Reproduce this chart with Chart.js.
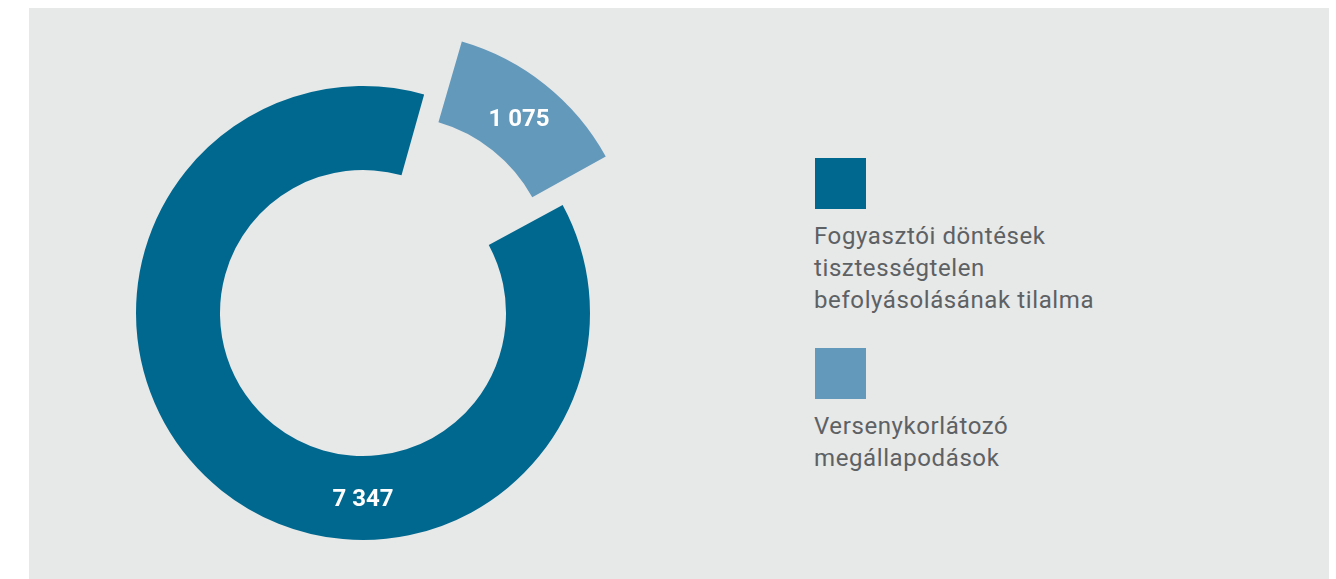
<!DOCTYPE html>
<html>
<head>
<meta charset="utf-8">
<script src="https://cdn.jsdelivr.net/npm/chart.js@4.4.1/dist/chart.umd.min.js"></script>
<style>
  html, body { margin: 0; padding: 0; background: #ffffff; overflow: hidden; }
  body { width: 1336px; height: 579px; position: relative; }
  #panel { position: absolute; left: 29px; top: 8px; width: 1300px; height: 600px; background: #e7e8e8; }
  #chart { position: absolute; left: 63px; top: 13px; }
  #legend { position: absolute; left: 815px; top: 158px; font-family: Roboto, "Noto Sans", sans-serif; font-size: 24px; line-height: 32px; letter-spacing: 0.6px; color: #5d6164; }
  .item { margin-bottom: 32px; }
  .box { width: 51px; height: 51px; margin-bottom: 11px; }
  .txt { margin-left: -1px; }
</style>
</head>
<body>
<div id="panel"></div>
<canvas id="chart" width="600" height="600"></canvas>
<div id="legend"></div>
<script>
const categories = [
  ['Fogyasztói döntések', 'tisztességtelen', 'befolyásolásának tilalma'],
  ['Versenykorlátozó', 'megállapodások']
];
const values = [7347, 1075];
const valueLabels = ['7 347', '1 075'];
const colors = ['#00688f', '#6399bb'];

const labelPlugin = {
  id: 'sliceLabels',
  afterDatasetsDraw(chart) {
    const ctx = chart.ctx;
    const meta = chart.getDatasetMeta(0);
    ctx.save();
    ctx.fillStyle = '#ffffff';
    ctx.font = 'bold 24px Roboto, sans-serif';
    ctx.textAlign = 'center';
    ctx.textBaseline = 'middle';
    meta.data.forEach((arc, i) => {
      const p = arc.getProps(['x', 'y', 'startAngle', 'endAngle', 'innerRadius', 'outerRadius', 'circumference']);
      const off = (arc.options.offset || 0) / 4;
      const mid = (p.startAngle + p.endAngle) / 2;
      const fix = 1 - Math.sin(Math.min(Math.PI, p.circumference));
      const rMid = (p.innerRadius + p.outerRadius) / 2 + off * fix;
      let ang = mid, cx = p.x, cy = p.y;
      if (i === 0) {
        ang = Math.PI / 2; // label placed at the bottom of the large ring
      } else {
        cx += Math.cos(mid) * off;
        cy += Math.sin(mid) * off;
      }
      ctx.fillText(valueLabels[i], cx + Math.cos(ang) * rMid, cy + Math.sin(ang) * rMid + 2);
    });
    ctx.restore();
  }
};

const smallSpanDeg = values[1] / (values[0] + values[1]) * 360;

const chart = new Chart(document.getElementById('chart'), {
  type: 'doughnut',
  data: {
    labels: categories,
    datasets: [{
      data: values,
      backgroundColor: colors,
      borderWidth: 0,
      offset: [0, 203],
      hoverOffset: 0
    }]
  },
  options: {
    responsive: false,
    animation: false,
    radius: 227,
    cutout: '63%',
    rotation: 38.6 + smallSpanDeg / 2,
    layout: { padding: 0 },
    plugins: {
      legend: { display: false },
      tooltip: { enabled: false }
    },
    events: []
  },
  plugins: [labelPlugin]
});

// HTML legend built from the chart data
const legend = document.getElementById('legend');
chart.data.labels.forEach((lab, i) => {
  const item = document.createElement('div');
  item.className = 'item';
  const box = document.createElement('div');
  box.className = 'box';
  box.style.background = chart.data.datasets[0].backgroundColor[i];
  const txt = document.createElement('div');
  txt.className = 'txt';
  txt.innerHTML = (Array.isArray(lab) ? lab : [lab]).join('<br>');
  item.appendChild(box);
  item.appendChild(txt);
  legend.appendChild(item);
});
</script>
</body>
</html>
